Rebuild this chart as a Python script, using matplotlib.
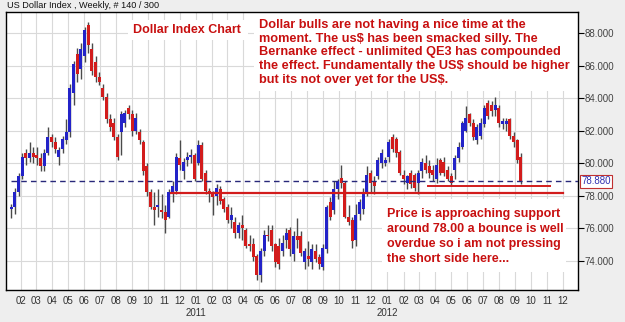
import matplotlib
matplotlib.use("Agg")
import matplotlib.pyplot as plt
import matplotlib.dates as mdates
import matplotlib.transforms as mtransforms
from matplotlib.patches import Rectangle
import numpy as np
import pandas as pd

# weekly bars, week of 2010-01-11 .. week of 2012-09-10
first_week = "2010-01-11"
opens = [77.2, 77.3, 78.2, 79.2, 80.6, 80.3, 80.6, 80.5, 80.3, 79.8,
         80.6, 81.6, 81.3, 80.4, 80.9, 81.4, 81.9, 84.3, 86.7, 85.8,
         86.6, 88.5, 87.0, 86.2, 85.3, 84.6, 84.1, 82.7, 82.5, 81.6,
         81.9, 82.5, 83.4, 83.0, 82.0, 81.9, 81.3, 79.8, 78.2, 77.3,
         77.3, 77.1, 77.0, 76.7, 78.2, 78.3, 80.3, 79.5, 80.2, 80.4,
         80.5, 80.0, 81.1, 79.4, 78.3, 78.1, 78.0, 78.4, 77.8, 77.3,
         76.5, 76.4, 75.7, 76.2, 75.9, 75.0, 75.0, 74.3, 73.1, 74.6,
         75.6, 75.9, 75.0, 74.9, 74.6, 75.3, 75.9, 74.4, 75.5, 75.5,
         73.9, 74.3, 73.9, 74.6, 74.2, 73.6, 74.7, 77.6, 77.1, 78.4,
         79.1, 78.8, 76.7, 76.5, 75.3, 76.9, 77.2, 78.1, 79.4, 78.9,
         79.2, 80.0, 80.0, 80.4, 81.6, 81.5, 80.7, 79.3, 78.8, 79.4,
         79.3, 78.8, 79.5, 80.0, 79.8, 79.6, 79.0, 80.2, 80.1, 79.6,
         79.2, 79.6, 80.3, 81.0, 82.0, 83.0, 82.5, 81.4, 81.7, 82.4,
         83.7, 83.6, 83.3, 83.4, 82.4, 82.4, 82.7, 81.7, 81.4, 80.4]
highs = [77.5, 78.5, 79.4, 80.6, 80.9, 81.3, 81.0, 81.0, 80.6, 80.9,
         82.2, 81.8, 81.6, 81.0, 81.7, 82.7, 84.9, 86.3, 87.1, 87.4,
         88.4, 88.7, 87.4, 86.6, 85.6, 84.9, 84.3, 83.0, 82.8, 81.8,
         83.2, 83.3, 83.6, 83.3, 83.1, 82.1, 81.4, 80.0, 78.4, 78.2,
         78.4, 78.1, 77.4, 78.4, 78.9, 80.6, 81.4, 80.3, 80.7, 80.9,
         80.6, 81.4, 81.3, 79.6, 78.5, 78.3, 78.7, 78.6, 77.9, 77.5,
         77.3, 76.7, 76.4, 76.8, 76.0, 75.6, 75.4, 74.4, 74.8, 75.9,
         76.2, 76.2, 75.1, 75.4, 75.6, 76.0, 76.1, 75.8, 76.6, 75.8,
         74.8, 75.2, 75.0, 75.0, 74.4, 75.0, 77.4, 77.9, 78.9, 79.0,
         79.9, 78.9, 77.4, 76.7, 77.5, 77.8, 78.5, 79.8, 79.6, 79.2,
         80.4, 80.9, 80.4, 81.5, 81.8, 81.6, 80.8, 79.6, 79.3, 79.6,
         79.4, 79.6, 80.3, 80.5, 80.2, 79.9, 80.3, 80.3, 80.4, 79.8,
         79.4, 80.5, 81.3, 82.6, 83.5, 83.1, 82.7, 82.4, 82.8, 83.6,
         83.9, 83.8, 84.1, 83.6, 82.8, 82.8, 82.8, 81.9, 81.5, 80.6]
lows = [76.6, 76.9, 78.0, 79.0, 79.9, 80.1, 80.0, 79.9, 79.5, 79.5,
        80.5, 81.0, 80.6, 79.9, 80.6, 81.2, 81.6, 83.6, 85.0, 85.2,
        86.2, 86.8, 85.4, 85.0, 84.8, 83.9, 82.5, 82.0, 81.4, 80.2,
        80.5, 82.2, 82.7, 81.7, 81.8, 81.2, 79.3, 78.0, 77.2, 76.2,
        76.7, 76.6, 75.7, 76.6, 77.6, 78.1, 79.6, 79.0, 79.8, 80.0,
        78.9, 79.9, 78.9, 78.1, 77.6, 76.8, 77.4, 77.5, 77.0, 76.3,
        76.0, 75.4, 75.4, 75.3, 74.8, 74.6, 74.0, 72.8, 72.7, 74.3,
        75.2, 74.6, 73.6, 73.5, 74.3, 74.8, 74.3, 74.0, 74.8, 74.3,
        73.5, 73.7, 73.5, 73.9, 73.5, 73.4, 74.5, 76.5, 76.9, 77.8,
        78.5, 76.6, 76.2, 74.8, 74.9, 76.5, 76.9, 78.0, 78.2, 78.1,
        79.0, 79.7, 79.8, 80.1, 80.7, 80.4, 79.3, 78.7, 78.4, 78.5,
        78.3, 78.1, 79.1, 79.4, 79.1, 78.9, 78.8, 79.3, 79.2, 78.9,
        78.6, 79.0, 80.1, 80.9, 81.9, 82.3, 81.4, 81.2, 81.5, 82.2,
        82.7, 82.9, 82.9, 82.2, 82.1, 82.0, 81.5, 81.0, 80.0, 78.7]
closes = [77.3, 78.2, 79.2, 80.4, 80.3, 80.6, 80.4, 80.3, 79.8, 80.6,
          81.6, 81.3, 80.9, 80.8, 81.5, 81.9, 84.6, 86.1, 85.5, 87.0,
          88.2, 87.3, 85.7, 85.3, 85.0, 84.1, 82.7, 82.2, 81.6, 80.4,
          83.0, 83.1, 83.0, 82.0, 82.8, 81.4, 79.5, 78.2, 77.3, 77.1,
          77.4, 77.0, 76.5, 78.2, 78.6, 80.4, 79.9, 80.1, 80.4, 80.5,
          79.0, 81.1, 79.0, 78.3, 78.1, 77.9, 78.5, 77.7, 77.2, 76.5,
          76.8, 75.7, 76.2, 76.0, 74.9, 74.9, 74.2, 73.1, 74.6, 75.6,
          75.5, 74.9, 73.9, 73.8, 75.1, 75.7, 74.7, 75.5, 75.3, 74.5,
          74.6, 74.1, 74.7, 74.1, 73.8, 74.8, 77.3, 76.7, 78.4, 78.9,
          78.8, 76.7, 76.4, 75.2, 76.8, 77.6, 78.1, 79.3, 78.8, 78.6,
          80.2, 80.6, 80.2, 81.3, 80.9, 80.6, 79.4, 79.0, 79.2, 78.7,
          78.5, 79.4, 80.1, 79.6, 79.4, 79.3, 79.9, 79.4, 79.4, 79.0,
          78.8, 80.3, 81.0, 82.5, 82.8, 82.5, 81.6, 82.2, 82.5, 83.4,
          82.9, 83.2, 83.6, 82.5, 82.6, 82.6, 81.7, 81.3, 80.2, 78.88]

last_price = 78.88
support_1 = 78.15
support_2 = 78.6

title = "US Dollar Index , Weekly, # 140 / 300"
note_top = ("Dollar bulls are not having a nice time at the\n"
            "moment. The us$ has been smacked silly. The\n"
            "Bernanke effect - unlimited QE3 has compounded\n"
            "the effect. Fundamentally the US$ should be higher\n"
            "but its not over yet for the US$.")
note_bottom = ("Price is approaching support\n"
               "around 78.00 a bounce is well\n"
               "overdue so i am not pressing\n"
               "the short side here...")

W, H = 625, 322
fig = plt.figure(figsize=(W / 100, H / 100), dpi=100, facecolor="#eeeeee")
ax = fig.add_axes([6 / W, 1 - 290 / H, 572 / W, 278 / H])
ax.set_facecolor("white")

dates = pd.date_range(first_week, periods=len(closes), freq="7D") + pd.Timedelta(days=2)
x = mdates.date2num(dates)
o = np.array(opens)
c = np.array(closes)
up = c >= o
cols = np.where(up, "#2323c8", "#d21c1c")
height = np.where(np.abs(c - o) < 0.08, 0.08, c - o)

ax.vlines(x, lows, highs, color="#4a4a4a", linewidth=1, zorder=3)
ax.bar(x, height, bottom=o, width=5.6, color=cols, linewidth=0, zorder=4)

x0 = mdates.date2num(pd.Timestamp("2010-01-03"))
x1 = mdates.date2num(pd.Timestamp("2012-12-30"))
ax.set_xlim(x0, x1)
ax.set_ylim(72.2, 89.3)

# reference lines
ax.axhline(last_price, xmin=(x[0] - x0) / (x1 - x0), color="#28287a",
           linestyle=(0, (4, 3)), linewidth=1, zorder=5)
ax.plot(mdates.date2num(pd.to_datetime(["2010-11-14", "2012-12-01"])),
        [support_1, support_1], color="#d21c1c", linewidth=1.6, zorder=6)
ax.plot(mdates.date2num(pd.to_datetime(["2012-03-18", "2012-11-07"])),
        [support_2, support_2], color="#d21c1c", linewidth=1.4, zorder=6)

# axes styling
months = pd.date_range("2010-02-01", "2012-12-01", freq="MS")
ax.set_xticks(mdates.date2num(months))
ax.set_xticklabels([m.strftime("%m") for m in months])
ax.set_yticks(np.arange(74, 89, 2))
ax.yaxis.set_major_formatter(plt.FormatStrFormatter("%.3f"))
ax.yaxis.tick_right()
ax.tick_params(axis="y", length=4, width=0.8, pad=1, labelsize=7, labelcolor="#444444")
ax.tick_params(axis="x", length=0, pad=4, labelsize=7, labelcolor="#333333")
for lab in ax.get_xticklabels() + ax.get_yticklabels():
    lab.set_family("Liberation Sans")
ax.grid(True, color="#d9d9d9", linewidth=0.8, zorder=0)
ax.set_axisbelow(True)
for s in ax.spines.values():
    s.set_color("black")
    s.set_linewidth(1)

# white panels behind the notes (hide the grid there)
for (px, py, pw, ph) in [(128, 20, 120, 20), (254, 13, 324, 78), (382, 199, 184, 73)]:
    ax.add_patch(Rectangle((px / W, 1 - (py + ph) / H), pw / W, ph / H,
                           transform=fig.transFigure, facecolor="white",
                           edgecolor="none", zorder=2))

for yr in ["2011", "2012"]:
    fx = ax.transData.transform((mdates.date2num(pd.Timestamp(yr + "-01-01")), 0))[0] / W
    fig.text(fx, 1 - 313 / H, yr, ha="center", va="center", fontsize=7,
             family="Liberation Sans", color="#333333")

fig.text(7 / W, 1 - 6 / H, title, ha="left", va="center", fontsize=6.6,
         family="Liberation Sans", color="#111111")

# price tag
tr = mtransforms.blended_transform_factory(ax.transAxes, ax.transData)
ax.text(1.006, last_price, "78.880", transform=tr, ha="left", va="center",
        fontsize=7, family="Liberation Sans", color="#3030b0", zorder=7,
        bbox=dict(boxstyle="square,pad=0.15", facecolor="white",
                  edgecolor="#c03030", linewidth=0.8), clip_on=False)

red_txt = "#c81010"
fig.text(133 / W, 1 - 30 / H, "Dollar Index Chart", ha="left", va="center",
         fontsize=9, fontweight="bold", family="Liberation Sans", color=red_txt)
fig.text(259 / W, 1 - 52.5 / H, note_top, ha="left", va="center", fontsize=9.2,
         fontweight="bold", family="Liberation Sans", color=red_txt, linespacing=1.2)
fig.text(387 / W, 1 - 236.5 / H, note_bottom, ha="left", va="center", fontsize=9,
         fontweight="bold", family="Liberation Sans", color=red_txt, linespacing=1.3)

fig.savefig("out.png", dpi=100, facecolor=fig.get_facecolor())
